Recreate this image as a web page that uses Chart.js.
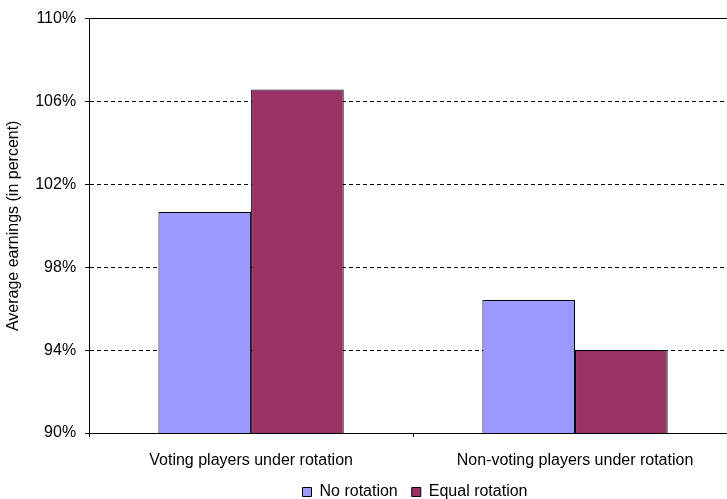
<!DOCTYPE html>
<html>
<head>
<meta charset="utf-8">
<script src="https://cdn.jsdelivr.net/npm/chart.js@4"></script>
<style>
  html, body { margin: 0; padding: 0; background: #fff; overflow: hidden; }
  #wrap { width: 830px; height: 499px; }
</style>
</head>
<body>
<div id="wrap"><canvas id="grafico"></canvas></div>
<script>
const categorias = ["Voting players under rotation", "Non-voting players under rotation"];
const sinRotacion = [100.67, 96.42];
const rotacionIgual = [106.58, 94.0];
const ticksY = [90, 94, 98, 102, 106, 110];

const fuente = { family: "'Liberation Sans', Arial, sans-serif", size: 16 };

new Chart(document.getElementById("grafico"), {
  type: "bar",
  data: {
    labels: categorias,
    datasets: [
      {
        label: "No rotation",
        data: sinRotacion,
        backgroundColor: "#9999FF",
        borderColor: "#000",
        borderWidth: 1,
        categoryPercentage: 0.572,
        barPercentage: 1
      },
      {
        label: "Equal rotation",
        data: rotacionIgual,
        backgroundColor: "#993366",
        borderColor: "#000",
        borderWidth: 1,
        categoryPercentage: 0.572,
        barPercentage: 1
      }
    ]
  },
  options: {
    responsive: true,
    maintainAspectRatio: false,
    animation: false,
    layout: { padding: { top: 10, left: 0, bottom: -11, right: 0 } },
    plugins: {
      tooltip: { enabled: false },
      legend: {
        position: "bottom",
        labels: {
          color: "#000",
          font: fuente,
          boxWidth: 9,
          boxHeight: 9,
          padding: 14
        }
      }
    },
    scales: {
      x: {
        grid: { drawOnChartArea: false, drawTicks: true, tickLength: 4, color: "#000", offset: true },
        border: { display: true, color: "#000", width: 1 },
        ticks: { color: "#000", font: fuente, padding: 14, maxRotation: 0 },
        afterFit: (eje) => { eje.height = 37; }
      },
      xTop: {
        position: "top",
        grid: { display: false },
        border: { display: true, color: "#000", width: 1 },
        ticks: { display: false }
      },
      y: {
        min: 90,
        max: 110,
        afterBuildTicks: (eje) => { eje.ticks = ticksY.map(v => ({ value: v })); },
        grid: { color: "#000", tickLength: 4, lineWidth: 1 },
        border: { display: true, color: "#000", width: 1, dash: [4, 3] },
        ticks: { color: "#000", font: fuente, padding: 9, callback: (v) => v + "%" },
        title: { display: true, text: "Average earnings (in percent)", color: "#000", font: fuente, padding: { top: 4, bottom: 3 } }
      },
      relleno: {
        position: "right",
        grid: { display: false },
        border: { display: false },
        ticks: { display: false },
        afterFit: (eje) => { eje.width = 93; }
      }
    }
  }
});
</script>
</body>
</html>
